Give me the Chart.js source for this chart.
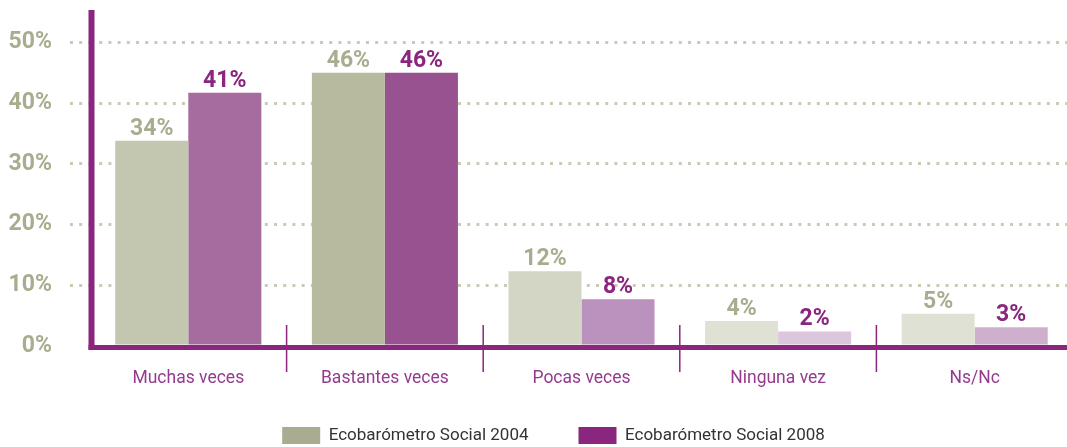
<!DOCTYPE html>
<html lang="es">
<head>
<meta charset="utf-8">
<script src="https://cdn.jsdelivr.net/npm/chart.js@4"></script>
<style>
    html, body { margin: 0; padding: 0; background: #fff; overflow: hidden; }
    #contenedor { width: 1073px; height: 447px; }
</style>
</head>
<body>
<div id="contenedor"><canvas id="grafico"></canvas></div>
<script>
// Datos
const categorias = ['Muchas veces', 'Bastantes veces', 'Pocas veces', 'Ninguna vez', 'Ns/Nc'];
const serie2004 = [33.8, 45.0, 12.3, 4.1, 5.3];
const serie2008 = [41.7, 45.0, 7.7, 2.4, 3.1];
const rotulos2004 = ['34%', '46%', '12%', '4%', '5%'];
const rotulos2008 = ['41%', '46%', '8%', '2%', '3%'];
const ticksEjeY = [0, 10, 20, 30, 40, 50];

// Estilos
const FUENTE = 'Roboto, "DejaVu Sans Condensed", sans-serif';
const MORADO = '#8b267e';
const OLIVA = '#a9ac8e';
const PUNTOS = '#c9cbb6';
const colores2004 = ['#c4c7b0', '#b8baa0', '#d4d6c5', '#e0e1d5', '#e0e1d5'];
const colores2008 = ['#a66c9f', '#97528f', '#bb91bd', '#dcc6dc', '#cfafce'];

// Ejes morados y separadores de categorías
const pluginEjes = {
    id: 'ejes',
    afterDatasetsDraw(chart) {
        const { ctx, chartArea, scales: { x, y } } = chart;
        const base = y.getPixelForValue(0);

        ctx.save();
        ctx.fillStyle = MORADO;
        ctx.fillRect(chartArea.left - 1.5, 10, 6, base + 4 - 10);
        ctx.fillRect(chartArea.left - 1.5, base - 1, chartArea.right - chartArea.left + 2, 5);

        ctx.strokeStyle = MORADO;
        ctx.lineWidth = 1.5;
        for (let i = 1; i < categorias.length; i++) {
            const xs = (x.getPixelForValue(i - 1) + x.getPixelForValue(i)) / 2;
            ctx.beginPath();
            ctx.moveTo(xs, base - 21);
            ctx.lineTo(xs, base + 26);
            ctx.stroke();
        }
        ctx.restore();
    }
};

// Porcentajes sobre cada barra
const pluginRotulos = {
    id: 'rotulos',
    afterDatasetsDraw(chart) {
        const { ctx } = chart;
        ctx.save();
        ctx.font = `bold 23px ${FUENTE}`;
        ctx.textAlign = 'center';
        ctx.textBaseline = 'alphabetic';
        chart.data.datasets.forEach((ds, i) => {
            ctx.fillStyle = ds.colorRotulo;
            chart.getDatasetMeta(i).data.forEach((barra, j) => {
                ctx.fillText(ds.rotulos[j], barra.x, barra.y - 6);
            });
        });
        ctx.restore();
    }
};

// La leyenda del original está algo desplazada respecto al centro
const pluginLeyenda = {
    id: 'posicionLeyenda',
    afterLayout(chart) {
        const leyenda = chart.legend;
        leyenda.left += 17;
        leyenda.right += 17;
        leyenda.top -= 13;
        leyenda.bottom -= 13;
    }
};

new Chart(document.getElementById('grafico'), {
    type: 'bar',
    data: {
        labels: categorias,
        datasets: [
            {
                label: 'Ecobarómetro Social 2004',
                data: serie2004,
                rotulos: rotulos2004,
                backgroundColor: colores2004,
                colorLeyenda: OLIVA,
                colorRotulo: OLIVA,
                borderWidth: 0,
                categoryPercentage: 0.743,
                barPercentage: 1.0
            },
            {
                label: 'Ecobarómetro Social 2008',
                data: serie2008,
                rotulos: rotulos2008,
                backgroundColor: colores2008,
                colorLeyenda: MORADO,
                colorRotulo: MORADO,
                borderWidth: 0,
                categoryPercentage: 0.743,
                barPercentage: 1.0
            }
        ]
    },
    options: {
        responsive: true,
        maintainAspectRatio: false,
        animation: false,
        layout: { padding: { left: 0, top: 12, right: 0, bottom: -20 } },
        scales: {
            x: {
                grid: { display: false },
                border: { display: false },
                ticks: {
                    padding: 14,
                    color: '#953b8e',
                    font: { family: FUENTE, size: 17.5 }
                },
                afterFit: scale => {
                    scale.height = 44;
                    scale.paddingLeft = 0;
                    scale.paddingRight = 0;
                }
            },
            y: {
                min: 0,
                max: 55,
                afterBuildTicks: scale => { scale.ticks = ticksEjeY.map(v => ({ value: v })); },
                afterFit: scale => {
                    scale.width = 90;
                    scale.paddingTop = 0;
                    scale.paddingBottom = 0;
                },
                border: { display: false, dash: [3, 6.2] },
                grid: {
                    lineWidth: 3,
                    color: c => c.tick && c.tick.value === 0 ? 'rgba(0,0,0,0)' : PUNTOS,
                    tickColor: c => c.tick && c.tick.value === 0 ? 'rgba(0,0,0,0)' : PUNTOS,
                    tickLength: 20,
                    tickWidth: 3,
                    tickBorderDash: [3, 6.2]
                },
                ticks: {
                    padding: 18,
                    color: OLIVA,
                    font: { family: FUENTE, size: 23, weight: 'bold' },
                    callback: v => v + '%'
                }
            }
        },
        plugins: {
            tooltip: { enabled: false },
            legend: {
                position: 'bottom',
                labels: {
                    boxWidth: 38,
                    boxHeight: 17,
                    padding: 50,
                    color: '#333333',
                    font: { family: FUENTE, size: 17 },
                    generateLabels: chart => chart.data.datasets.map((ds, i) => ({
                        text: ds.label,
                        fillStyle: ds.colorLeyenda,
                        strokeStyle: ds.colorLeyenda,
                        lineWidth: 0,
                        hidden: false,
                        datasetIndex: i,
                        fontColor: '#333333'
                    }))
                }
            }
        }
    },
    plugins: [pluginEjes, pluginRotulos, pluginLeyenda]
});
</script>
</body>
</html>
